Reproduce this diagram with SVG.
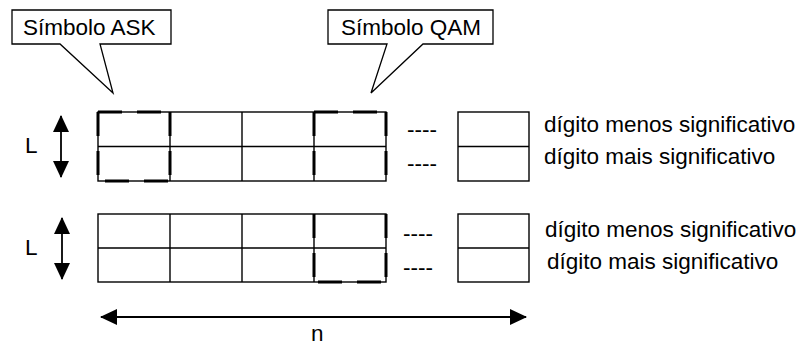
<svg xmlns="http://www.w3.org/2000/svg" width="802" height="349" viewBox="0 0 802 349">
<defs>
<style>
text{font-family:"Liberation Sans",Arial,sans-serif;font-size:22.5px;fill:#000}
.thin{fill:none;stroke:#000;stroke-width:1.4}
.call{fill:#fff;stroke:#000;stroke-width:1.3;stroke-linejoin:miter}
.sym{fill:none;stroke:#000;stroke-width:3;stroke-dasharray:24 15}
.arr{fill:none;stroke:#000;stroke-width:1.8}
</style>
<marker id="ah" markerUnits="userSpaceOnUse" markerWidth="18" markerHeight="16" viewBox="0 0 18 16" refX="16" refY="8" orient="auto-start-reverse">
<path d="M0,0 L17,8 L0,16 z" fill="#000"/>
</marker>
</defs>
<rect width="802" height="349" fill="#fff"/>

<g id="callout-ask">
<path class="call" d="M12,10 H171 V44 H100 L113,93 L60,44 H12 Z"/>
<text x="23" y="35">Símbolo ASK</text>
</g>
<g id="callout-qam">
<path class="call" d="M328,10 H493 V44 H423 L371,93 L387,44 H328 Z"/>
<text x="341" y="35">Símbolo QAM</text>
</g>

<g id="grid-top">
<rect class="thin" x="98" y="112" width="288" height="69"/>
<path class="thin" d="M98,146.5 H386 M170,112 V181 M242,112 V181 M314,112 V181"/>
<text x="407" y="137">----</text>
<text x="407" y="171">----</text>
<rect class="thin" x="458" y="112" width="71" height="69"/>
<path class="thin" d="M458,146.5 H529"/>
<text x="544" y="132">dígito menos significativo</text>
<text x="544" y="164">dígito mais significativo</text>
<text x="25" y="153">L</text>
</g>

<g id="grid-bottom">
<rect class="thin" x="98" y="214" width="288" height="68"/>
<path class="thin" d="M98,248 H386 M170,214 V282 M242,214 V282 M314,214 V282"/>
<text x="403" y="241">----</text>
<text x="403" y="275">----</text>
<rect class="thin" x="458" y="214" width="71" height="68"/>
<path class="thin" d="M458,248 H529"/>
<text x="545" y="237">dígito menos significativo</text>
<text x="547" y="269">dígito mais significativo</text>
<text x="25" y="255">L</text>
</g>

<g id="symbol-ask">
<path class="sym" d="M98,112 H170 M98,112 V181 M170,112 V181 M105,181 H170"/>
</g>
<g id="symbol-qam">
<path class="sym" d="M314,112 H386 M314,112 V181 M386,112 V181 M314,214 V282 M386,214 V282 M318,282 H386"/>
</g>

<g id="connectors">
<line class="arr" x1="61" y1="116" x2="61" y2="177" marker-start="url(#ah)" marker-end="url(#ah)"/>
<line class="arr" x1="62" y1="218" x2="62" y2="279" marker-start="url(#ah)" marker-end="url(#ah)"/>
<line class="arr" x1="101" y1="317" x2="526" y2="317" marker-start="url(#ah)" marker-end="url(#ah)"/>
</g>
<text x="311" y="341">n</text>
</svg>
